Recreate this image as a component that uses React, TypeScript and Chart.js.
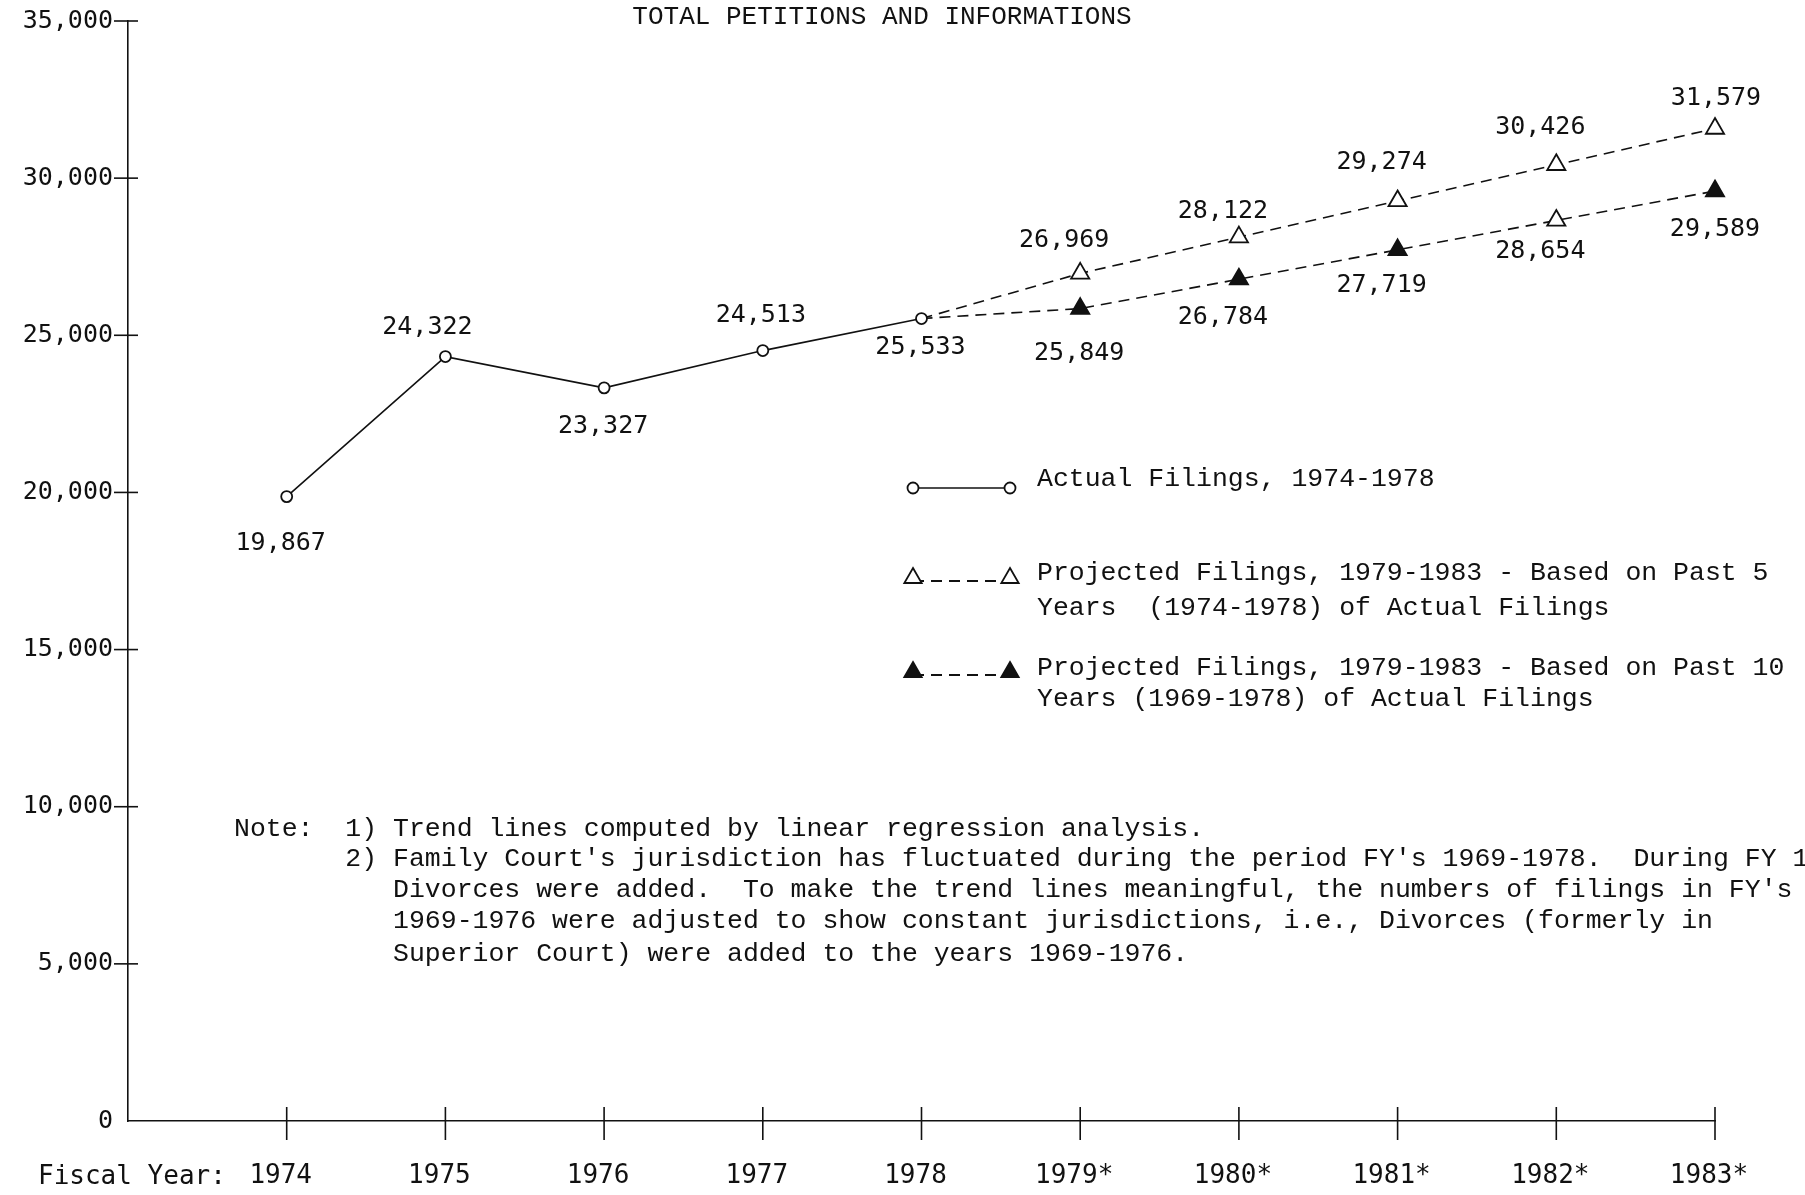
import React, { useEffect, useRef } from 'react';
import { Chart, registerables } from 'chart.js';

Chart.register(...registerables);

// ---- data ----
const tickYears = [1974, 1975, 1976, 1977, 1978, 1979, 1980, 1981, 1982, 1983];
const xTickLabels = ['1974', '1975', '1976', '1977', '1978', '1979*', '1980*', '1981*', '1982*', '1983*'];
const yTickValues = [0, 5000, 10000, 15000, 20000, 25000, 30000, 35000];

const actualYears = [1974, 1975, 1976, 1977, 1978];
const actualFilings = [19867, 24322, 23327, 24513, 25533];

const projYears = [1978, 1979, 1980, 1981, 1982, 1983];
const projected5 = [25533, 26969, 28122, 29274, 30426, 31579];
const projected10 = [25533, 25849, 26784, 27719, 28654, 29589];

const titleText = 'TOTAL PETITIONS AND INFORMATIONS';
const legendLabels = [
  ['Actual Filings, 1974-1978'],
  ['Projected Filings, 1979-1983 - Based on Past 5', 'Years  (1974-1978) of Actual Filings'],
  ['Projected Filings, 1979-1983 - Based on Past 10', 'Years (1969-1978) of Actual Filings'],
];
const noteLines = [
  "Note:  1) Trend lines computed by linear regression analysis.",
  "       2) Family Court's jurisdiction has fluctuated during the period FY's 1969-1978.  During FY 1977",
  "          Divorces were added.  To make the trend lines meaningful, the numbers of filings in FY's",
  "          1969-1976 were adjusted to show constant jurisdictions, i.e., Divorces (formerly in",
  "          Superior Court) were added to the years 1969-1976.",
];

// ---- label placement (style, px offsets from each point) ----
const actualLabelDx = [-6, -18, -1, -2, -1];
const actualLabelDy = [47, -29, 39, -35, 29];
const proj5LabelDx = [0, -16, -16, -16, -16, 1];
const proj5LabelDy = [0, -33, -26, -38, -37, -30];
const proj10LabelDx = [0, -1, -16, -16, -16, 0];
const proj10LabelDy = [0, 45, 38, 36, 31, 38];

const INK = '#111';
const MONO = '"Liberation Mono", "DejaVu Sans Mono", monospace';
const SANSMONO = '"DejaVu Sans Mono", "Liberation Mono", monospace';

const fmt = (v: number) => v.toLocaleString('en-US');

function drawTri(ctx: CanvasRenderingContext2D, x: number, y: number, r: number, filled: boolean) {
  ctx.beginPath();
  let rad = 0;
  ctx.moveTo(x + Math.sin(rad) * r, y - Math.cos(rad) * r);
  rad += (2 * Math.PI) / 3;
  ctx.lineTo(x + Math.sin(rad) * r, y - Math.cos(rad) * r);
  rad += (2 * Math.PI) / 3;
  ctx.lineTo(x + Math.sin(rad) * r, y - Math.cos(rad) * r);
  ctx.closePath();
  ctx.fillStyle = filled ? INK : '#fff';
  ctx.fill();
  ctx.lineWidth = 1.8;
  ctx.strokeStyle = INK;
  ctx.stroke();
}

function drawCircle(ctx: CanvasRenderingContext2D, x: number, y: number, r: number) {
  ctx.beginPath();
  ctx.arc(x, y, r, 0, Math.PI * 2);
  ctx.fillStyle = '#fff';
  ctx.fill();
  ctx.lineWidth = 1.8;
  ctx.strokeStyle = INK;
  ctx.stroke();
}

const decorPlugin = {
  id: 'decor',
  afterDraw(chart: any) {
    const { ctx, chartArea } = chart;
    const xs = chart.scales.x;
    const ys = chart.scales.y;
    ctx.save();
    ctx.strokeStyle = INK;
    ctx.lineWidth = 1.6;
    // tick marks crossing the axes
    const y0 = ys.getPixelForValue(0);
    tickYears.forEach((yr) => {
      const px = xs.getPixelForValue(yr);
      ctx.beginPath();
      ctx.moveTo(px, y0 - 14);
      ctx.lineTo(px, y0 + 19);
      ctx.stroke();
    });
    yTickValues.forEach((v) => {
      if (v === 0) return;
      const py = ys.getPixelForValue(v);
      ctx.beginPath();
      ctx.moveTo(chartArea.left - 14, py);
      ctx.lineTo(chartArea.left + 10, py);
      ctx.stroke();
    });

    // value labels
    ctx.fillStyle = INK;
    ctx.font = `25px ${SANSMONO}`;
    ctx.textAlign = 'center';
    ctx.textBaseline = 'middle';
    actualYears.forEach((yr, i) => {
      ctx.fillText(fmt(actualFilings[i]), xs.getPixelForValue(yr) + actualLabelDx[i], ys.getPixelForValue(actualFilings[i]) + actualLabelDy[i]);
    });
    projYears.forEach((yr, i) => {
      if (i === 0) return;
      ctx.fillText(fmt(projected5[i]), xs.getPixelForValue(yr) + proj5LabelDx[i], ys.getPixelForValue(projected5[i]) + proj5LabelDy[i]);
      ctx.fillText(fmt(projected10[i]), xs.getPixelForValue(yr) + proj10LabelDx[i], ys.getPixelForValue(projected10[i]) + proj10LabelDy[i]);
    });

    // title
    ctx.font = `26px ${MONO}`;
    ctx.fillText(titleText, 882, 17);

    // fiscal year prefix
    ctx.textAlign = 'left';
    ctx.font = `26px ${SANSMONO}`;
    ctx.fillText('Fiscal Year:', 38, 1177);

    // legend
    const lx1 = 913;
    const lx2 = 1010;
    const tx = 1037;
    ctx.lineWidth = 1.6;
    ctx.beginPath();
    ctx.moveTo(lx1, 488);
    ctx.lineTo(lx2, 488);
    ctx.stroke();
    drawCircle(ctx, lx1, 488, 5.5);
    drawCircle(ctx, lx2, 488, 5.5);
    ctx.setLineDash([11, 7]);
    ctx.beginPath();
    ctx.moveTo(lx1, 581);
    ctx.lineTo(lx2, 581);
    ctx.stroke();
    ctx.beginPath();
    ctx.moveTo(lx1, 675);
    ctx.lineTo(lx2, 675);
    ctx.stroke();
    ctx.setLineDash([]);
    drawTri(ctx, lx1, 578, 10, false);
    drawTri(ctx, lx2, 578, 10, false);
    drawTri(ctx, lx1, 672, 10, true);
    drawTri(ctx, lx2, 672, 10, true);

    ctx.fillStyle = INK;
    ctx.font = `26.5px ${MONO}`;
    ctx.textAlign = 'left';
    ctx.textBaseline = 'middle';
    ctx.fillText(legendLabels[0][0], tx, 479);
    ctx.fillText(legendLabels[1][0], tx, 573);
    ctx.fillText(legendLabels[1][1], tx, 608);
    ctx.fillText(legendLabels[2][0], tx, 668);
    ctx.fillText(legendLabels[2][1], tx, 699);

    // note
    const noteY = [829, 859, 890, 921, 954];
    noteLines.forEach((line, i) => {
      ctx.fillText(line, 234, noteY[i]);
    });
    ctx.restore();
  },
};

export default function App() {
  const ref = useRef<HTMLCanvasElement | null>(null);

  useEffect(() => {
    if (!ref.current) return;
    const chart = new Chart(ref.current, {
      type: 'line',
      data: {
        datasets: [
          {
            label: 'Actual Filings, 1974-1978',
            data: actualYears.map((x, i) => ({ x, y: actualFilings[i] })),
            borderColor: INK,
            borderWidth: 1.6,
            pointStyle: 'circle',
            pointRadius: 5.5,
            pointBorderWidth: 1.8,
            pointBorderColor: INK,
            pointBackgroundColor: '#fff',
            clip: false,
            order: 0,
          },
          {
            label: 'Projected Filings (5 years)',
            data: projYears.map((x, i) => ({ x, y: projected5[i] })),
            borderColor: INK,
            borderWidth: 1.6,
            borderDash: [11, 7],
            pointStyle: 'triangle',
            pointRadius: projYears.map((_, i) => (i === 0 ? 0 : 10.5)),
            pointBorderWidth: 1.8,
            pointBorderColor: INK,
            pointBackgroundColor: '#fff',
            clip: false,
            order: 1,
          },
          {
            label: 'Projected Filings (10 years)',
            data: projYears.map((x, i) => ({ x, y: projected10[i] })),
            borderColor: INK,
            borderWidth: 1.6,
            borderDash: [11, 7],
            pointStyle: 'triangle',
            pointRadius: projYears.map((_, i) => (i === 0 ? 0 : 10.5)),
            pointBorderWidth: 1.8,
            pointBorderColor: INK,
            pointBackgroundColor: projYears.map((_, i) => (i === 4 ? '#fff' : INK)),
            clip: false,
            order: 2,
          },
        ],
      },
      options: {
        animation: false,
        responsive: true,
        maintainAspectRatio: false,
        layout: { padding: { top: 21, right: 90, left: 0, bottom: 0 } },
        plugins: {
          legend: { display: false },
          title: { display: false },
          tooltip: { enabled: false },
        },
        scales: {
          x: {
            type: 'linear',
            min: 1973,
            max: 1983,
            afterFit: (s: any) => {
              s.height = 74;
              s.paddingLeft = 0;
              s.paddingRight = 0;
            },
            grid: { display: false, drawTicks: false },
            border: { display: true, color: INK, width: 1.6 },
            ticks: {
              stepSize: 1,
              autoSkip: false,
              maxRotation: 0,
              padding: 40,
              labelOffset: -6,
              color: INK,
              font: { family: SANSMONO, size: 26 },
              callback: (v: any) => {
                const idx = tickYears.indexOf(Number(v));
                return idx >= 0 ? xTickLabels[idx] : '';
              },
            },
          },
          y: {
            type: 'linear',
            min: 0,
            max: 35000,
            afterFit: (s: any) => {
              s.width = 128;
              s.paddingTop = 0;
              s.paddingBottom = 0;
            },
            grid: { display: false, drawTicks: false },
            border: { display: true, color: INK, width: 1.6 },
            ticks: {
              stepSize: 5000,
              padding: 15,
              color: INK,
              font: { family: SANSMONO, size: 25 },
              callback: (v: any) => fmt(Number(v)),
            },
          },
        },
      },
      plugins: [decorPlugin],
    });
    return () => chart.destroy();
  }, []);

  return (
    <div style={{ position: 'absolute', left: 0, top: 0, width: 1805, height: 1195, background: '#fff' }}>
      <canvas ref={ref} />
    </div>
  );
}
